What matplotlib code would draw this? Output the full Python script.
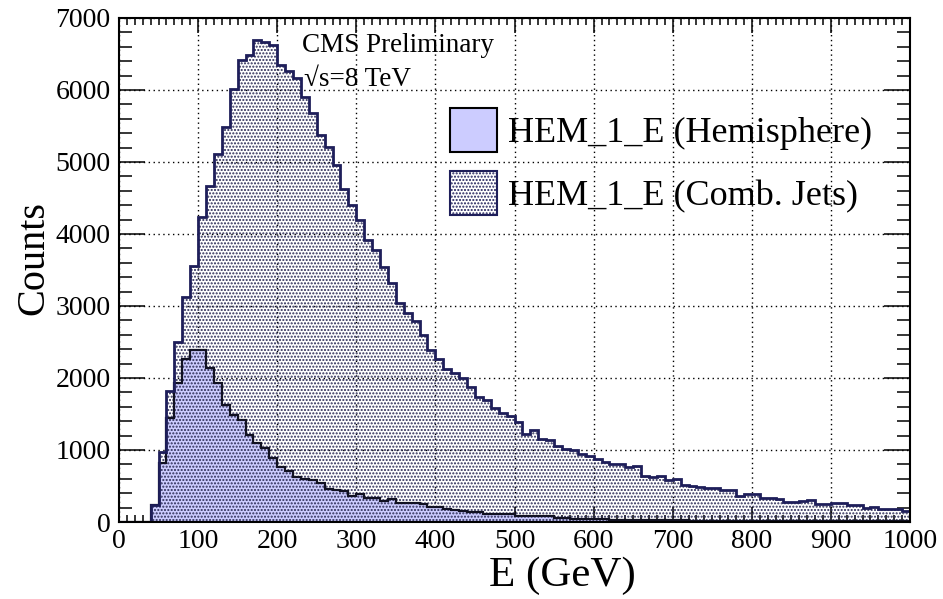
import numpy as np
import matplotlib
matplotlib.use("Agg")
import matplotlib.pyplot as plt
from matplotlib.patches import Patch
from matplotlib.ticker import MultipleLocator

plt.rcParams['font.family'] = ['Liberation Serif', 'DejaVu Serif']
plt.rcParams['mathtext.fontset'] = 'stix'
plt.rcParams['hatch.linewidth'] = 1.0

NAVY = '#1e1e5a'
DOTS = '#2a2a55'
plt.rcParams['hatch.color'] = DOTS

# ---- data: 10 GeV bins from 0 to 1000 GeV ----
bin_edges = np.arange(0, 1001, 10)

comb_jets = [
    0, 0, 0, 0, 240, 970, 1820, 2500, 3130, 3560,
    4240, 4670, 5110, 5490, 6020, 6410, 6490, 6690, 6660, 6620,
    6350, 6270, 6160, 5900, 5680, 5380, 5210, 4960, 4630, 4400,
    4190, 3920, 3780, 3540, 3320, 3040, 2900, 2790, 2600, 2390,
    2260, 2130, 2070, 1995, 1870, 1730, 1690, 1580, 1510, 1470,
    1390, 1220, 1280, 1150, 1140, 1050, 1010, 1005, 940, 915,
    870, 840, 810, 800, 760, 780, 640, 620, 635, 583,
    593, 520, 500, 480, 475, 470, 450, 444, 361, 389,
    385, 329, 329, 325, 282, 280, 285, 306, 250, 250,
    269, 265, 236, 236, 190, 213, 185, 176, 176, 157,
]

hemisphere = [
    0, 0, 0, 0, 230, 815, 1440, 1930, 2270, 2390,
    2390, 2134, 1926, 1625, 1486, 1417, 1208, 1093, 1023, 895,
    768, 710, 625, 600, 580, 545, 454, 440, 428, 368,
    394, 329, 329, 290, 315, 265, 262, 260, 255, 206,
    213, 180, 160, 155, 143, 140, 115, 111, 110, 108,
    85, 84, 82, 80, 78, 60, 52, 48, 45, 42,
    40, 36, 34, 32, 30, 29, 28, 26, 25, 24,
    22, 21, 20, 20, 19, 18, 17, 17, 16, 15,
    15, 14, 14, 13, 13, 12, 12, 11, 11, 10,
    10, 10, 9, 9, 9, 8, 8, 8, 7, 7,
]

x_major = np.arange(0, 1001, 100)
y_major = np.arange(0, 7001, 1000)

HEM_COLOR = '#ccccff'
HATCH = '.....'

fig = plt.figure(figsize=(9.43, 5.99), dpi=100)
ax = fig.add_axes([119 / 943, 1 - 522 / 599, (910 - 119) / 943, (522 - 18) / 599])

# hemisphere solid fill
ax.stairs(hemisphere, bin_edges, fill=True, facecolor=HEM_COLOR, edgecolor='none',
          linewidth=0, zorder=1)
# combined jets dotted pattern (transparent)
ax.stairs(comb_jets, bin_edges, fill=True, facecolor='none', edgecolor=DOTS,
          hatch=HATCH, linewidth=0, zorder=1.2)
# outlines
ax.stairs(hemisphere, bin_edges, fill=False, color='#111122', linewidth=1.6, zorder=2)
ax.stairs(comb_jets, bin_edges, fill=False, color=NAVY, linewidth=2.0, zorder=2.1)

ax.set_xlim(0, 1000)
ax.set_ylim(0, 7000)
ax.set_xticks(x_major)
ax.set_yticks(y_major)
ax.xaxis.set_minor_locator(MultipleLocator(10))
ax.yaxis.set_minor_locator(MultipleLocator(200))

ax.grid(True, which='major', linestyle=(0, (1, 2.5)), color='black', linewidth=1.0)
ax.set_axisbelow(True)

ax.tick_params(which='both', direction='in', top=True, right=True, width=1.1,
               labelsize=20, colors='black')
ax.tick_params(axis='y', which='major', length=19, pad=6)
ax.tick_params(axis='y', which='minor', length=9.5)
ax.tick_params(axis='x', which='major', length=11, pad=5)
ax.tick_params(axis='x', which='minor', length=5)
for sp in ax.spines.values():
    sp.set_linewidth(1.5)
    sp.set_zorder(5)

# axis titles
fig.text(34 / 943, 1 - 258 / 599, 'Counts', rotation=90, ha='center', va='center', fontsize=29)
fig.text(562 / 943, 1 - 576 / 599, 'E (GeV)', ha='center', va='center', fontsize=31)

# CMS text
fig.text(302 / 943, 1 - 45 / 599, 'CMS Preliminary', ha='left', va='center', fontsize=19.5)
fig.text(304 / 943, 1 - 80 / 599, '√s=8 TeV', ha='left', va='center', fontsize=19.5)

handles = [
    Patch(facecolor=HEM_COLOR, edgecolor='black', linewidth=1.5),
    Patch(facecolor='white', edgecolor=NAVY, hatch=HATCH, linewidth=1.5),
]
labels = ['HEM_1_E (Hemisphere)', 'HEM_1_E (Comb. Jets)']
leg = fig.legend(handles, labels, loc='upper left',
                 bbox_to_anchor=(450 / 943, 1 - 108 / 599),
                 frameon=False, fontsize=26, handlelength=1.3, handleheight=1.48,
                 handletextpad=0.3, labelspacing=0.55, borderpad=0, borderaxespad=0)

fig.savefig('out.png', dpi=100)
